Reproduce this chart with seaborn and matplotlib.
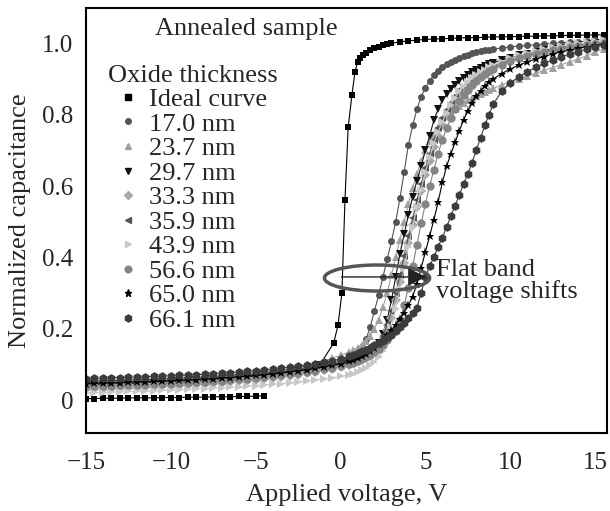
import matplotlib
matplotlib.use("Agg")
import matplotlib.pyplot as plt
from matplotlib.lines import Line2D
from matplotlib.patches import Ellipse
from matplotlib.ticker import FixedLocator, MultipleLocator
import seaborn as sns

# shared voltage grid for the measured curves (V)
volts = [-15, -14.5, -14, -13.5, -13, -12.5, -12, -11.5, -11, -10.5, -10, -9.5, -9, -8.5, -8,
         -7.5, -7, -6.5, -6, -5.5, -5, -4.5, -4, -3.5, -3, -2.5, -2, -1.5, -1, -0.5, 0, 0.5,
         0.75, 1, 1.25, 1.5, 1.75, 2, 2.25, 2.5, 2.75, 3, 3.25, 3.5, 3.75, 4, 4.25, 4.5, 4.75,
         5, 5.25, 5.5, 5.75, 6, 6.25, 6.5, 6.75, 7, 7.25, 7.5, 7.75, 8, 8.25, 8.5, 8.75, 9,
         9.5, 10, 10.5, 11, 11.5, 12, 12.5, 13, 13.5, 14, 14.5, 15, 15.5]

# ideal curve: flat accumulation part, then the steep part (separate record)
ideal_low_v = [-15, -14.5, -14, -13.5, -13, -12.5, -12, -11.5, -11, -10.5, -10, -9.5, -9,
               -8.5, -8, -7.5, -7, -6.5, -6, -5.5, -5, -4.5]
ideal_low_c = [.004, .004, .005, .005, .005, .006, .006, .006, .006, .007, .007, .007, .008,
               .008, .008, .009, .009, .009, .010, .010, .011, .012]
ideal_v = [-1.2, -0.4, -0.15, 0.08, 0.26, 0.45, 0.67, 0.85, 1.0, 1.15, 1.3, 1.5, 1.75, 2.0,
           2.25, 2.5, 2.75, 3.0, 3.5, 4.0, 4.5, 5, 5.5, 6, 6.5, 7, 7.5, 8, 8.5, 9, 9.5, 10,
           10.5, 11, 11.5, 12, 12.5, 13, 13.5, 14, 14.5, 15, 15.5]
ideal_c = [.10, .16, .21, .30, .56, .765, .855, .92, .947, .958, .966, .974, .981, .987,
           .991, .995, .998, 1.0, 1.004, 1.007, 1.009, 1.011, 1.012, 1.013, 1.014, 1.015,
           1.016, 1.016, 1.017, 1.018, 1.018, 1.019, 1.019, 1.02, 1.02, 1.021, 1.021, 1.022,
           1.022, 1.023, 1.023, 1.024, 1.024]

c_170 = [.052, .053, .053, .054, .055, .056, .056, .057, .058, .059, .060, .061, .062, .063,
         .064, .066, .067, .069, .070, .072, .074, .076, .078, .081, .084, .087, .090, .094,
         .098, .103, .108, .115,
         .122, .132, .148, .17, .205, .25, .295, .345, .395, .445, .50, .565, .64, .715, .77,
         .815, .85, .875, .895, .91, .923, .933, .941, .948, .954, .96, .964, .968, .972,
         .975, .978, .98, .982, .984,
         .987, .99, .992, .994, .996, .998, 1.0, 1.001, 1.003, 1.004, 1.006, 1.008, 1.01]
c_237 = [.036, .037, .038, .039, .040, .041, .042, .043, .044, .045, .047, .048, .050, .052,
         .054, .056, .058, .060, .063, .066, .069, .072, .076, .080, .085, .090, .096, .102,
         .109, .117, .125, .135,
         .14, .147, .155, .165, .18, .20, .225, .26, .30, .35, .40, .45, .50, .55, .595,
         .635, .67, .70, .725, .745, .765, .78, .795, .805, .815, .825, .833, .84, .847,
         .853, .859, .864, .869, .874,
         .883, .892, .90, .908, .916, .924, .932, .94, .948, .956, .965, .975, .985]
c_297 = [.043, .044, .044, .045, .046, .046, .047, .048, .049, .050, .051, .052, .053, .055,
         .056, .058, .059, .061, .063, .065, .067, .069, .071, .074, .077, .080, .083, .087,
         .091, .095, .10, .106,
         .11, .115, .12, .127, .135, .145, .16, .185, .225, .28, .345, .41, .465, .52, .57,
         .615, .655, .70, .74, .785, .815, .84, .857, .872, .884, .895, .904, .912, .919,
         .926, .932, .937, .942, .946,
         .953, .96, .966, .971, .976, .98, .984, .988, .991, .994, .997, 1.0, 1.002]
c_333 = [.030, .031, .031, .032, .033, .034, .035, .036, .037, .038, .039, .040, .042, .043,
         .045, .046, .048, .050, .052, .054, .056, .059, .061, .064, .067, .071, .075, .079,
         .083, .088, .093, .099,
         .103, .108, .114, .121, .13, .14, .153, .17, .195, .23, .28, .33, .385, .44, .49,
         .54, .585, .63, .67, .71, .74, .77, .795, .818, .838, .855, .868, .88, .89, .90,
         .908, .915, .922, .928,
         .938, .947, .955, .962, .968, .974, .979, .983, .987, .99, .993, .996, .998]
c_359 = [.048, .049, .049, .050, .051, .052, .052, .053, .054, .055, .056, .057, .058, .059,
         .061, .062, .064, .065, .067, .069, .071, .073, .075, .078, .081, .084, .087, .091,
         .095, .099, .104, .11,
         .114, .119, .125, .132, .14, .15, .163, .18, .21, .25, .30, .35, .405, .46, .51,
         .56, .605, .65, .69, .73, .762, .79, .813, .834, .852, .868, .88, .891, .901, .91,
         .917, .924, .93, .935,
         .944, .952, .959, .966, .972, .977, .982, .986, .99, .993, .996, .999, 1.002]
c_439 = [.020, .021, .021, .022, .023, .024, .024, .025, .026, .027, .028, .029, .030, .031,
         .032, .033, .035, .036, .037, .039, .040, .042, .044, .046, .048, .050, .053, .056,
         .059, .062, .066, .071,
         .074, .078, .083, .089, .097, .107, .12, .137, .165, .205, .255, .31, .37, .43, .485,
         .54, .59, .64, .68, .72, .752, .78, .805, .828, .848, .865, .879, .891, .902, .911,
         .919, .926, .933, .939,
         .949, .958, .966, .973, .979, .984, .989, .993, .997, 1.0, 1.003, 1.006, 1.008]
c_566 = [.038, .039, .039, .040, .041, .042, .042, .043, .044, .045, .046, .047, .048, .050,
         .051, .053, .054, .056, .058, .060, .062, .064, .066, .069, .072, .075, .078, .082,
         .086, .090, .095, .10,
         .104, .109, .114, .12, .127, .135, .144, .155, .167, .182, .20, .225, .265, .315,
         .375, .435, .495, .55, .60, .645, .69, .73, .762, .79, .815, .837, .855, .87, .883,
         .895, .905, .914, .922, .929,
         .94, .95, .958, .965, .971, .976, .981, .985, .989, .992, .995, .998, 1.0]
c_650 = [.046, .047, .047, .048, .049, .050, .050, .051, .052, .053, .054, .055, .056, .057,
         .059, .060, .062, .063, .065, .067, .069, .071, .073, .076, .079, .082, .085, .089,
         .093, .097, .102, .108,
         .112, .117, .123, .13, .138, .147, .157, .168, .181, .195, .21, .227, .245, .265,
         .29, .325, .37, .415, .46, .505, .555, .61, .655, .69, .722, .755, .785, .81, .832,
         .852, .867, .88, .891, .90,
         .915, .928, .939, .948, .956, .963, .97, .976, .981, .986, .99, .994, .997]
c_661 = [.060, .061, .061, .062, .063, .064, .064, .065, .066, .067, .068, .069, .070, .071,
         .072, .074, .075, .077, .078, .080, .082, .084, .086, .089, .092, .095, .098, .102,
         .106, .110, .115, .122,
         .126, .131, .136, .141, .147, .153, .159, .166, .174, .183, .193, .204, .216, .229,
         .243, .258, .30, .345, .375, .40, .43, .455, .485, .515, .545, .575, .605, .635,
         .665, .70, .735, .77, .80, .83,
         .865, .89, .905, .92, .933, .944, .954, .962, .97, .977, .984, .99, .995]

labels = ["17.0 nm", "23.7 nm", "29.7 nm", "33.3 nm", "35.9 nm",
          "43.9 nm", "56.6 nm", "65.0 nm", "66.1 nm"]
curves = [c_170, c_237, c_297, c_333, c_359, c_439, c_566, c_650, c_661]
colors = ["#555555", "#a0a0a0", "#111111", "#a8a8a8", "#555555",
          "#c8c8c8", "#858585", "#000000", "#3c3c3c"]
markers = ["o", "^", "v", "D", "<", ">", "o", "*", "h"]
msizes = [5.0, 6.0, 5.8, 4.6, 5.8, 6.0, 6.0, 6.5, 6.3]

sns.set_theme(style="white")
plt.rcParams["font.family"] = ["Liberation Serif", "DejaVu Serif"]

fig = plt.figure(figsize=(6.1, 5.11), dpi=100)
ax = fig.add_axes([0.141, 0.153, 0.854, 0.832])

for vv, cc in [(ideal_low_v, ideal_low_c), (ideal_v, ideal_c)]:
    sns.lineplot(x=vv, y=cc, color="black", marker="s", markersize=4.5,
                 markeredgewidth=0, linewidth=0.8, sort=False, ax=ax, legend=False)
for c, col, mk, ms in zip(curves, colors, markers, msizes):
    sns.lineplot(x=volts, y=c, color=col, marker=mk, markersize=ms,
                 markeredgewidth=0, linewidth=0.8, sort=False, ax=ax, legend=False)

# flat band shift marker
ax.add_patch(Ellipse((2.15, 0.342), width=6.2, height=0.073, fill=False,
                     edgecolor="#555555", linewidth=2.5, zorder=5))
ax.annotate("", xy=(5.2, 0.345), xytext=(-0.1, 0.345),
            arrowprops=dict(arrowstyle="-|>", color="#222222", lw=1.0,
                            mutation_scale=28), zorder=6)
ax.text(5.6, 0.333, "Flat band\nvoltage shifts", ha="left", va="center",
        fontsize=19, linespacing=0.95)

ax.text(0.132, 0.950, "Annealed sample", transform=ax.transAxes,
        ha="left", va="center", fontsize=19)

handles = [Line2D([], [], ls="none", marker="s", color="black", markersize=4.5)]
for col, mk, ms in zip(colors, markers, msizes):
    handles.append(Line2D([], [], ls="none", marker=mk, color=col, markersize=ms * 0.8))
leg = ax.legend(handles, ["Ideal curve"] + labels, title="Oxide thickness",
                loc="upper left", bbox_to_anchor=(0.042, 0.866), frameon=False,
                fontsize=19, title_fontsize=19, alignment="left",
                handlelength=1.5, handletextpad=0.05, labelspacing=0.04,
                borderpad=0, borderaxespad=0)

ax.set_xlim(-15, 15.7)
ax.set_ylim(-0.092, 1.1)
ax.xaxis.set_major_locator(FixedLocator([-15, -10, -5, 0, 5, 10, 15]))
ax.xaxis.set_minor_locator(MultipleLocator(2.5))
ax.yaxis.set_major_locator(FixedLocator([0, 0.2, 0.4, 0.6, 0.8, 1.0]))
ax.yaxis.set_minor_locator(MultipleLocator(0.1))
ax.set_yticklabels(["0", "0.2", "0.4", "0.6", "0.8", "1.0"])
ax.tick_params(which="both", direction="in", top=False, right=False,
               labelsize=18, color="black", width=1.2)
ax.tick_params(which="major", length=8)
ax.tick_params(which="minor", length=4)
ax.tick_params(axis="x", which="major", pad=14)
ax.tick_params(axis="y", which="major", pad=9)
for s in ax.spines.values():
    s.set_color("black")
    s.set_linewidth(1.5)

ax.set_xlabel("Applied voltage, V", fontsize=19, labelpad=7)
ax.set_ylabel("Normalized capacitance", fontsize=19, labelpad=8)

fig.savefig("out.png", dpi=100)
